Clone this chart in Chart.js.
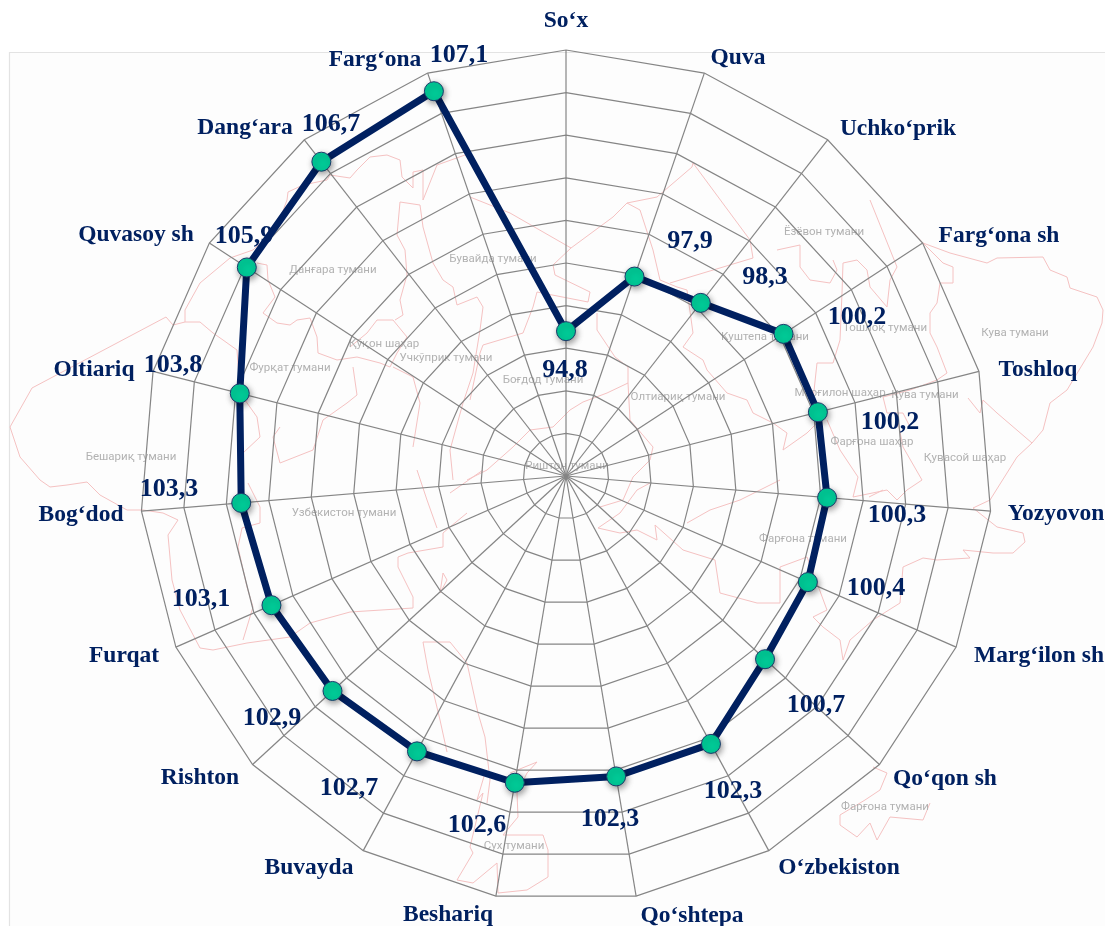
<!DOCTYPE html>
<html><head><meta charset="utf-8">
<style>html,body{margin:0;padding:0;background:#fff;overflow:hidden}canvas{display:block}</style>
<script src="https://cdn.jsdelivr.net/npm/chart.js@4"></script>
</head><body><canvas id="c" width="1105" height="926"></canvas>
<script>
const categories = ["So‘x","Quva","Uchko‘prik","Farg‘ona sh","Toshloq","Yozyovon","Marg‘ilon sh","Qo‘qon sh","O‘zbekiston","Qo‘shtepa","Beshariq","Buvayda","Rishton","Furqat","Bog‘dod","Oltiariq","Quvasoy sh","Dang‘ara","Farg‘ona"];
const values = [94.8,97.9,98.3,100.2,100.2,100.3,100.4,100.7,102.3,102.3,102.6,102.7,102.9,103.1,103.3,103.8,105.9,106.7,107.1];
const scaleMin = 88, scaleMax = 108, scaleStep = 2;

// Text placement (label centres)
const categoryLabelPos = [[566,20.5],[738,57.5],[898,128.5],[999,235.5],[1038,369.5],[1056,513.5],[1039,655.5],[945,778.5],[839,867.5],[692,915.5],[448,914.5],[309,867.5],[200,777.5],[124,655.5],[81,514.5],[94,369.5],[136,234.5],[245,127.5],[375,59.5]];
const valueLabelPos = [[565,370],[690,241],[765,277],[857,317],[890,422],[897,515],[876,588],[816,705],[733,791],[610,819],[477,825],[349,788],[272,718],[201,599],[169,489],[173,365],[244,236],[331,124],[459,55]];

// Faint background map: district names and boundaries
const mapNames = [["Ёзёвон тумани",824,232],["Бувайда тумани",493,259],["Данғара тумани",333,270],["Қўқон шаҳар",384,344],["Учкўприк тумани",446,358],["Фурқат тумани",290,368],["Боғдод тумани",543,380],["Олтиариқ тумани",678,397],["Куштепа тумани",765,337],["Тошлоқ тумани",885,328],["Кува тумани",1015,333],["Марғилон шаҳар",840,393],["Кува тумани",925,395],["Фарғона шаҳар",872,442],["Қувасой шаҳар",965,458],["Бешариқ тумани",131,457],["Риштон тумани",567,466],["Узбекистон тумани",344,513],["Фарғона тумани",803,539],["Фарғона тумани",885,807],["Сух тумани",514,846]];
const mapLines = [
[[400,160],[387,155],[370,157],[357,170],[350,178],[330,175],[327,180],[303,185],[288,192],[287,200],[277,227],[253,250],[230,258],[200,283],[185,310],[185,322],[200,322],[213,333],[223,340],[237,350],[240,393],[257,417],[260,437],[243,453]],
[[185,322],[173,325],[166,317],[32,388],[10,427],[20,457],[40,480],[50,487],[67,485],[87,482],[100,495],[127,510],[143,510],[163,513],[178,520],[168,535],[172,580],[180,610],[200,648],[213,650],[247,643],[290,637],[310,623],[350,612],[413,608],[413,597],[398,567],[398,557],[408,553],[443,547],[443,533],[450,527],[467,513]],
[[257,263],[267,265],[268,280],[275,297],[263,313],[277,323],[290,325],[297,320],[310,318],[317,337],[318,353],[337,360],[357,357],[380,363],[390,367],[397,353],[407,337],[393,320],[377,320],[367,333],[350,347]],
[[280,427],[273,437],[280,463],[313,450],[323,420],[347,403],[357,395],[353,367]],
[[248,483],[260,507],[260,523],[242,528],[238,547],[247,587],[253,607],[243,640]],
[[400,160],[402,177],[413,188],[413,172],[423,170],[423,200],[437,165],[465,155]],
[[400,202],[420,205],[423,227],[433,263],[443,280],[453,287],[457,305],[477,297],[483,307],[480,330],[473,373],[463,403],[450,450],[453,480]],
[[400,202],[397,235],[405,250],[407,275],[400,300],[403,315],[395,320]],
[[470,197],[510,213],[571,248],[553,265],[555,275],[590,292],[588,302],[537,292],[533,307],[523,333],[483,345],[480,353],[470,400]],
[[571,248],[613,217],[627,203],[657,197],[692,167],[693,163],[750,240],[753,258],[670,283]],
[[627,203],[640,210],[653,250],[660,280],[677,287],[687,290],[693,333],[683,347],[703,360],[707,370],[727,393],[747,400],[753,413],[773,423],[787,433],[783,450],[807,433],[817,423]],
[[597,313],[597,330],[615,357],[628,367],[628,383],[630,420],[653,447],[650,460],[633,477],[623,500],[600,507]],
[[628,383],[607,393],[583,402],[570,410],[553,427],[530,430],[513,447],[487,470],[467,480]],
[[777,250],[800,245],[800,267],[810,280],[830,283],[837,270],[833,260]],
[[883,200],[923,243],[950,253],[987,263],[997,258],[1043,257],[1050,270],[1067,277],[1070,288],[1097,297],[1103,310],[1102,323],[1093,347],[1067,390],[1050,403],[1043,430],[1032,443],[1017,457],[990,500],[973,508],[997,527],[1023,533],[1025,542],[1013,553],[993,553],[963,550],[970,558],[937,560],[923,558],[903,567],[900,603],[873,620],[850,640],[843,660],[840,640],[823,627],[813,617],[827,610],[817,583],[807,557],[780,567],[780,603],[757,603],[720,593],[715,560],[683,550],[655,525],[657,540],[637,530],[620,533],[598,528],[620,513],[637,490],[650,483]],
[[1032,443],[997,413],[983,400],[980,413],[968,398]],
[[923,243],[943,263],[953,267],[953,283],[940,283],[937,303],[930,313],[930,333],[937,347],[947,373],[937,380],[910,390],[883,397],[887,413],[903,413],[910,427]],
[[843,263],[857,260],[867,270],[870,287],[887,307],[890,280],[897,267],[870,200]],
[[843,263],[842,293],[840,340],[833,363],[817,363],[813,400]],
[[827,420],[840,450],[858,477],[853,497],[887,490],[897,500],[907,490],[922,480],[903,447],[897,417]],
[[687,523],[710,510],[740,500],[780,480]],
[[869,497],[883,490]],
[[873,767],[887,773],[880,790],[865,800],[840,815],[840,825],[857,837],[870,823],[877,840],[890,817],[923,820],[930,803]],
[[423,642],[450,642],[467,663],[478,713],[485,737],[490,780],[487,803]],
[[423,642],[428,670],[440,720],[447,752]],
[[510,773],[537,762],[527,773],[517,793],[518,817],[503,835],[543,835],[548,850],[548,877],[527,890],[498,893],[497,863],[473,883],[457,880],[473,853],[470,847],[483,793],[477,800],[485,773]],
[[443,573],[440,593],[447,580],[443,573]],
[[417,470],[427,500],[437,528]],
[[450,493],[483,470]],
[[413,447],[420,403],[413,377],[393,367]]
];

const navy = "#002060";
const drawBackdrop = {
  id:"backdrop",
  beforeDraw(chart){
    const c = chart.ctx;
    c.save();
    c.fillStyle="#fff"; c.fillRect(0,0,1105,926);
    c.fillStyle="#fdfdfd"; c.fillRect(9,52,1096,874);
    c.strokeStyle="#e3e3e3"; c.lineWidth=1.2;
    c.beginPath(); c.moveTo(9.5,926); c.lineTo(9.5,52.5); c.lineTo(1105,52.5); c.stroke();
    c.strokeStyle="#f5c2c2"; c.lineWidth=1; c.lineJoin="round";
    mapLines.forEach(l=>{c.beginPath(); l.forEach((p,i)=>i?c.lineTo(p[0],p[1]):c.moveTo(p[0],p[1])); c.stroke();});
    c.fillStyle="#b2b2b2"; c.font="11.5px Roboto, sans-serif"; c.textAlign="center"; c.textBaseline="middle";
    mapNames.forEach(n=>c.fillText(n[0],n[1],n[2]));
    c.restore();
  }
};
const drawText = {
  id:"texts",
  beforeDatasetsDraw(chart){
    const c = chart.ctx;
    c.save();
    c.fillStyle=navy; c.textAlign="center"; c.textBaseline="middle";
    c.font='bold 23.5px "Liberation Serif", serif';
    categories.forEach((t,i)=>c.fillText(t,categoryLabelPos[i][0],categoryLabelPos[i][1]));
    c.font='bold 26px "Liberation Serif", serif';
    values.forEach((v,i)=>c.fillText(v.toFixed(1).replace(".",","),valueLabelPos[i][0],valueLabelPos[i][1]));
    c.restore();
  }
};
// soft shadow behind the markers
const PE = Chart.elements.PointElement.prototype, peDraw = PE.draw;
PE.draw = function(ctx,area){
  ctx.save();
  ctx.shadowColor="rgba(0,0,0,0.4)"; ctx.shadowBlur=6; ctx.shadowOffsetX=1.5; ctx.shadowOffsetY=2.5;
  peDraw.call(this,ctx,area);
  ctx.restore();
};
new Chart(document.getElementById("c"),{
  type:"radar",
  data:{labels:categories,datasets:[{data:values,borderColor:navy,borderWidth:7,fill:false,tension:0,
    pointRadius:9.5,pointBackgroundColor:"#00C996",pointBorderColor:"#1b3a6b",pointBorderWidth:1,borderJoinStyle:"round"}]},
  options:{
    responsive:false,animation:false,
    layout:{padding:{left:139,right:112,top:50,bottom:23}},
    plugins:{legend:{display:false},tooltip:{enabled:false}},
    scales:{r:{min:scaleMin,max:scaleMax,ticks:{display:false,stepSize:scaleStep},
      grid:{color:"#858585",lineWidth:1.2},
      angleLines:{color:"#858585",lineWidth:1.2},
      pointLabels:{display:false}}}
  },
  plugins:[drawBackdrop,drawText]
});
</script></body></html>
